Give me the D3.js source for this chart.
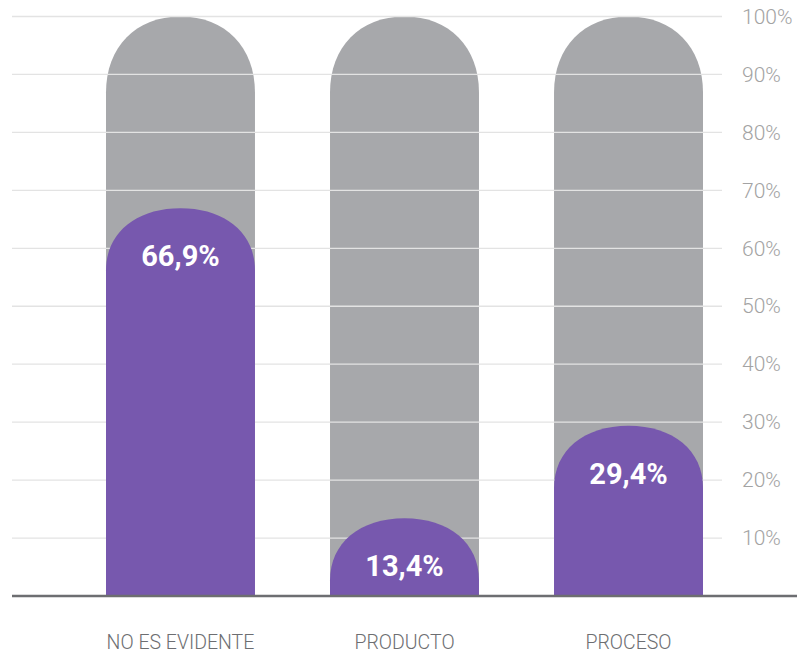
<!DOCTYPE html>
<html>
<head>
<meta charset="utf-8">
<script src="https://cdn.jsdelivr.net/npm/d3@7"></script>
<style>
  html, body { margin: 0; padding: 0; background: #ffffff; }
  svg { display: block; }
</style>
</head>
<body>
<svg id="chart" width="797" height="657"></svg>
<script>
// Categories and their shares (percent)
const categories = ["NO ES EVIDENTE", "PRODUCTO", "PROCESO"];
const values = [66.9, 13.4, 29.4];
const totals = [100, 100, 100];
const valueLabels = ["66,9%", "13,4%", "29,4%"];
const tickValues = [10, 20, 30, 40, 50, 60, 70, 80, 90, 100];

const svg = d3.select("#chart");

const y = d3.scaleLinear().domain([0, 100]).range([596, 16.5]);
const x = d3.scaleBand().domain(categories).range([106, 703])
  .paddingInner(0.335).paddingOuter(0);

// Bar with a rounded, dome-shaped top (two cubic curves)
function capBar(cat, v, ry, k) {
  const x0 = x(cat), x1 = x0 + x.bandwidth();
  const rx = x.bandwidth() / 2, cx = x0 + rx;
  const top = y(v), base = y(0);
  const r = Math.min(ry, base - top);
  return `M${x0},${base}L${x0},${top + r}` +
    `C${x0},${top + r - k * r} ${cx - k * rx},${top} ${cx},${top}` +
    `C${cx + k * rx},${top} ${x1},${top + r - k * r} ${x1},${top + r}` +
    `L${x1},${base}Z`;
}

// Background (100%) bars
svg.append("g").selectAll("path")
  .data(categories)
  .join("path")
  .attr("d", (c, i) => capBar(c, totals[i], 76, 0.6))
  .attr("fill", "#a7a8ab");

// Horizontal gridlines
svg.append("g").selectAll("line")
  .data(tickValues)
  .join("line")
  .attr("x1", 12).attr("x2", 722)
  .attr("y1", d => y(d)).attr("y2", d => y(d))
  .attr("stroke", "#e3e3e3").attr("stroke-width", 1.3);

// Value bars
svg.append("g").selectAll("path")
  .data(categories)
  .join("path")
  .attr("d", (c, i) => capBar(c, values[i], 62, 0.6))
  .attr("fill", "#7758ae");

// Value labels
svg.append("g").selectAll("text")
  .data(categories)
  .join("text")
  .attr("x", c => x(c) + x.bandwidth() / 2)
  .attr("y", (c, i) => y(values[i]) + 58)
  .attr("text-anchor", "middle")
  .attr("font-family", "Roboto, 'Open Sans', sans-serif")
  .attr("font-weight", 700)
  .attr("font-size", 29)
  .attr("fill", "#ffffff")
  .text((c, i) => valueLabels[i]);

// Baseline
svg.append("line")
  .attr("x1", 12).attr("x2", 797)
  .attr("y1", y(0)).attr("y2", y(0))
  .attr("stroke", "#6d6e71").attr("stroke-width", 2.5);

// Right-hand percentage axis
const axis = d3.axisRight(y).tickValues(tickValues)
  .tickFormat(d => d + "%").tickSize(0).tickPadding(0);
const ag = svg.append("g").attr("transform", "translate(742,0)").call(axis);
ag.select(".domain").remove();
ag.selectAll("text")
  .attr("font-family", "Roboto, sans-serif")
  .attr("font-weight", 300)
  .attr("font-size", 21)
  .attr("fill", "#a3a3a3");

// Category labels
svg.append("g").selectAll("text")
  .data(categories)
  .join("text")
  .attr("x", c => x(c) + x.bandwidth() / 2)
  .attr("y", 649)
  .attr("text-anchor", "middle")
  .attr("font-family", "Roboto, sans-serif")
  .attr("font-weight", 300)
  .attr("font-size", 19.5)
  .attr("fill", "#6d6e71")
  .text(c => c);
</script>
</body>
</html>
